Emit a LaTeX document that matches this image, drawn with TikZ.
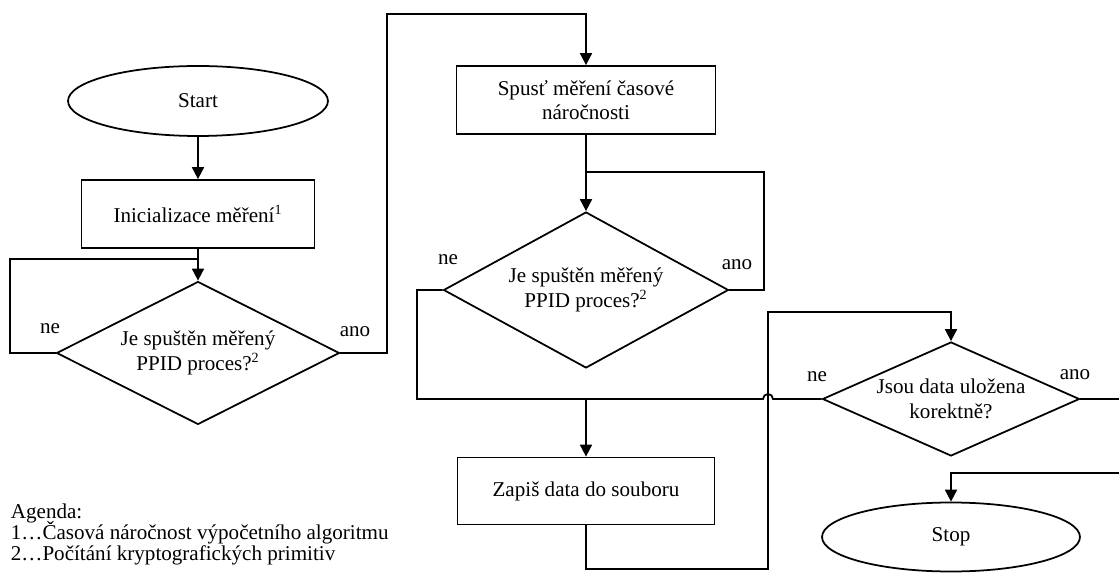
\documentclass[tikz,border=0pt]{standalone}
\usepackage{fontspec}
\setmainfont{Liberation Serif}
\usetikzlibrary{shapes.geometric,arrows.meta}

\begin{document}
\begin{tikzpicture}[
    x = 0.02cm, y = -0.02cm, % pixel grid, y down
    > = {Triangle[length=0.24cm,width=0.24cm]}, % arrow head style
    line width = 1pt, % line style
    font = \fontsize{12}{14}\selectfont
  ]

  \tikzstyle{block}=[rectangle,draw=black,align=center,inner sep=0pt]
  \tikzstyle{term}=[ellipse,draw=black,inner sep=0pt]
  \tikzstyle{decision}=[diamond,draw=black,align=center,inner sep=0pt]
  \tikzstyle{lbl}=[inner sep=0pt]

  \useasboundingbox (0,0) rectangle (1119,577);
  \clip (0,0) rectangle (1119,577);

  \node[term, minimum width=5.2cm, minimum height=1.4cm] (start) at (198,101) {Start};
  \node[block, minimum width=4.66cm, minimum height=1.36cm] (init) at (198,214) {Inicializace měření\textsuperscript{1}};
  \node[decision, aspect=2, minimum width=5.66cm, minimum height=2.86cm] (dec1) at (198,353) {Je spuštěn měřený\\PPID proces?\textsuperscript{2}};
  \node[block, minimum width=5.18cm, minimum height=1.36cm] (spust) at (586,100) {Spusť měření časové\\náročnosti};
  \node[decision, aspect=1.85, minimum width=5.7cm, minimum height=3.12cm] (dec2) at (586,290) {Je spuštěn měřený\\PPID proces?\textsuperscript{2}};
  \node[block, minimum width=5.14cm, minimum height=1.34cm] (zapis) at (586,491) {Zapiš data do souboru};
  \node[decision, aspect=2.25, minimum width=5.14cm, minimum height=2.28cm] (dec3) at (951,399) {Jsou data uložena\\korektně?};
  \node[term, minimum width=5.16cm, minimum height=1.38cm] (stop) at (951,537) {Stop};

  \node[lbl] (ne1) at (50,329) {ne};
  \node[lbl] (ano1) at (355,332) {ano};
  \node[lbl] (ne2) at (448,260) {ne};
  \node[lbl] (ano2) at (737,265) {ano};
  \node[lbl] (ne3) at (817,377) {ne};
  \node[lbl] (ano3) at (1075,375) {ano};

  \node[lbl, anchor=north west, align=left] (agenda) at (10,503)
    {Agenda:\\[-2pt]1\dots Časová náročnost výpočetního algoritmu\\[-2pt]2\dots Počítání kryptografických primitiv};

  \coordinate (j1) at (198,259);
  \coordinate (j2) at (586,172);
  \coordinate (j3) at (586,399);

  \draw[->] (start) -- (init);
  \draw[->] (init) -- (dec1);
  \draw (dec1.west) -| (10,259) -- (j1);
  \draw[->] (dec1.east) -| (387,14) -| (spust.north);
  \draw[->] (spust) -- (dec2);
  \draw (dec2.east) -| (764,172) -- (j2);
  \draw (dec2.west) -| (417,399) -- (763,399) arc[start angle=180, end angle=0, radius=0.1cm] -- (dec3.west);
  \draw[->] (j3) -- (zapis);
  \draw[->] (zapis.south) -- (586,569) -| (768,312) -| (dec3.north);
  \draw[->] (dec3.east) -| (1135,473) -| (stop.north);

\end{tikzpicture}
\end{document}
